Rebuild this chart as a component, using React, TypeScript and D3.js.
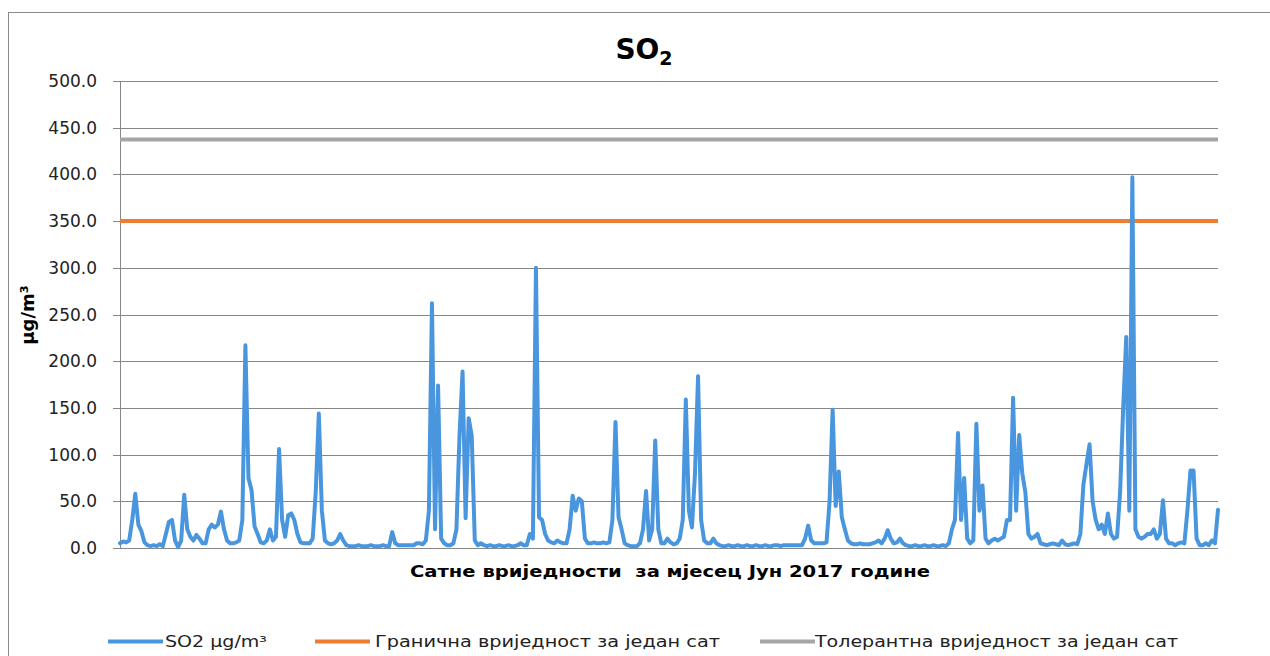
import React from "react";
import * as d3 from "d3";

// 2-hour samples across June 2017 (360 points)
const so2Values: number[] = [
  5, 7, 6, 8, 30, 58, 25, 18, 6, 3,
  2, 3, 2, 4, 2, 15, 28, 30, 8, 1,
  8, 57, 20, 12, 8, 14, 10, 5, 5, 20,
  25, 22, 25, 39, 20, 8, 5, 5, 6, 8,
  30, 217, 75, 62, 23, 15, 6, 5, 8, 20,
  8, 12, 106, 30, 12, 35, 37, 30, 15, 6,
  5, 5, 5, 10, 60, 144, 40, 8, 5, 4,
  5, 8, 15, 8, 3, 2, 2, 2, 3, 2,
  2, 2, 3, 2, 2, 2, 3, 2, 2, 17,
  5, 3, 3, 3, 3, 3, 3, 5, 5, 4,
  8, 40, 262, 20, 174, 10, 5, 3, 3, 5,
  20, 120, 189, 32, 139, 120, 8, 3, 5, 3,
  2, 3, 2, 2, 3, 2, 2, 3, 2, 2,
  3, 5, 3, 3, 15, 10, 300, 33, 30, 15,
  8, 6, 5, 8, 6, 5, 5, 20, 56, 40,
  53, 50, 10, 5, 5, 6, 5, 5, 6, 5,
  6, 30, 135, 33, 20, 5, 3, 2, 2, 2,
  5, 20, 61, 8, 20, 115, 20, 5, 5, 10,
  6, 4, 5, 10, 30, 159, 40, 22, 80, 184,
  30, 8, 5, 5, 10, 5, 3, 2, 2, 3,
  2, 2, 3, 2, 2, 3, 2, 2, 3, 2,
  2, 3, 2, 2, 3, 3, 2, 3, 3, 3,
  3, 3, 3, 3, 10, 24, 8, 5, 5, 5,
  5, 6, 50, 148, 45, 82, 33, 20, 8, 5,
  4, 4, 5, 4, 4, 4, 5, 6, 8, 5,
  10, 19, 10, 5, 6, 10, 5, 3, 2, 2,
  3, 2, 2, 3, 2, 2, 3, 2, 2, 3,
  2, 5, 20, 30, 123, 30, 75, 10, 5, 8,
  133, 40, 67, 10, 5, 8, 10, 8, 10, 12,
  30, 30, 161, 40, 121, 80, 60, 15, 10, 12,
  15, 5, 4, 3, 4, 5, 4, 3, 8, 4,
  3, 4, 5, 4, 15, 68, 90, 111, 50, 30,
  20, 25, 15, 37, 15, 10, 12, 60, 150, 226,
  40, 397, 20, 12, 10, 12, 15, 15, 20, 10,
  15, 51, 10, 5, 5, 3, 5, 6, 5, 40,
  83, 83, 10, 3, 3, 5, 3, 8, 5, 41,
];

const limitValue = 350;
const toleranceValue = 437.5;
const yTicks = [0, 50, 100, 150, 200, 250, 300, 350, 400, 450, 500];
const titleMain = "SO";
const titleSub = "2";
const yAxisTitle = "µg/m³";
const xAxisTitle = "Сатне вриједности  за мјесец Јун 2017 године";
const legendLabels = ["SO2 µg/m³", "Гранична вриједност за један сат", "Толерантна вриједност за један сат"];

const W = 1270;
const H = 656;
const left = 120;
const right = 1218;
const top = 81;
const bottom = 548;
const BLUE = "#4a96de";
const ORANGE = "#ed7d31";
const GRAY = "#a5a5a5";
const GRID = "#878787";
const FONT = "'DejaVu Sans', Verdana, sans-serif";

export default function App() {
  const x = d3.scaleLinear().domain([0, so2Values.length - 1]).range([left, right]);
  const y = d3.scaleLinear().domain([0, 500]).range([bottom, top]);
  const line = d3
    .line<number>()
    .x((_, i) => x(i))
    .y((d) => y(d));
  const flat = (v: number) =>
    d3.line<number>().x((d) => d).y(() => y(v))([left, right]) || "";

  const legendItems = [
    { label: legendLabels[0], color: BLUE, lx: 108, tx: 165, tw: 102 },
    { label: legendLabels[1], color: ORANGE, lx: 315, tx: 375, tw: 345 },
    { label: legendLabels[2], color: GRAY, lx: 760, tx: 815, tw: 363 },
  ];

  return (
    <svg
      width={W}
      height={H}
      style={{ position: "absolute", left: 0, top: 0, background: "#fff" }}
    >
      <rect x={8.5} y={12.5} width={1300} height={700} fill="#fff" stroke="#8a8a8a" strokeWidth={1} />
      {/* title */}
      <text x={644} y={59} textAnchor="middle" fontFamily={FONT} fontWeight="bold" fontSize={28} fill="#000">
        {titleMain}
        <tspan fontSize={19} dy={6}>{titleSub}</tspan>
      </text>
      {/* gridlines and ticks */}
      {yTicks.map((t) => (
        <g key={t}>
          <line x1={113} x2={right} y1={Math.round(y(t)) + 0.5} y2={Math.round(y(t)) + 0.5} stroke={GRID} strokeWidth={1} />
          <text x={97} y={y(t) + 6} textAnchor="end" fontFamily={FONT} fontSize={17} fill="#222">
            {t.toFixed(1)}
          </text>
        </g>
      ))}
      <line x1={120.5} x2={120.5} y1={top} y2={bottom} stroke={GRID} strokeWidth={1} />
      {/* y axis title */}
      <text
        transform={`translate(34, 315) rotate(-90)`}
        textAnchor="middle"
        fontFamily={FONT}
        fontWeight="bold"
        fontSize={18}
        fill="#000"
      >
        {yAxisTitle}
      </text>
      {/* x axis title */}
      <text x={410} y={577} fontFamily={FONT} fontWeight="bold" fontSize={16} fill="#000" textLength={520} lengthAdjust="spacingAndGlyphs" style={{ whiteSpace: "pre" }}>
        {xAxisTitle}
      </text>
      {/* threshold lines */}
      <path d={flat(toleranceValue)} stroke={GRAY} strokeWidth={4} fill="none" />
      <path d={flat(limitValue)} stroke={ORANGE} strokeWidth={4} fill="none" />
      {/* data line */}
      <path d={line(so2Values) || ""} stroke={BLUE} strokeWidth={4} fill="none" strokeLinejoin="round" strokeLinecap="round" />
      {/* legend */}
      {legendItems.map((it) => (
        <g key={it.label}>
          <line x1={it.lx} x2={it.lx + 55} y1={641.5} y2={641.5} stroke={it.color} strokeWidth={4} />
          <text x={it.tx} y={647} fontFamily={FONT} fontSize={16} fill="#222" textLength={it.tw} lengthAdjust="spacingAndGlyphs">
            {it.label}
          </text>
        </g>
      ))}
    </svg>
  );
}
